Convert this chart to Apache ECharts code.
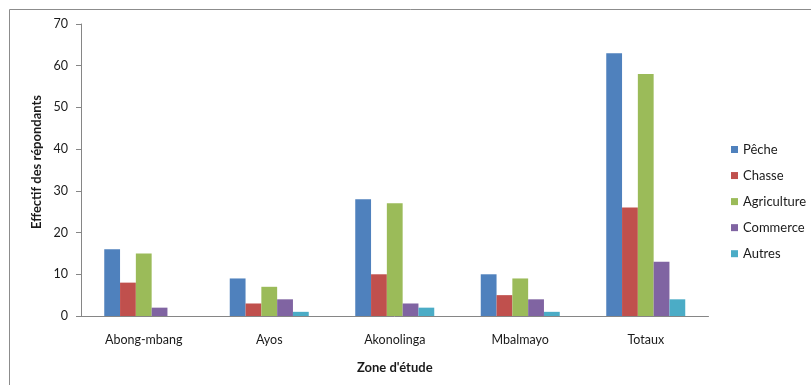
<!DOCTYPE html>
<html>
<head>
<meta charset="utf-8">
<script src="https://cdn.jsdelivr.net/npm/echarts@6/dist/echarts.min.js"></script>
<style>
  html, body { margin: 0; padding: 0; background: #fff; }
  #chart { width: 811px; height: 385px; }
</style>
</head>
<body>
<div id="chart"></div>
<script>
// Zones d'étude et effectifs par activité
const zones = ['Abong-mbang', 'Ayos', 'Akonolinga', 'Mbalmayo', 'Totaux'];
const peche = [16, 9, 28, 10, 63];
const chasse = [8, 3, 10, 5, 26];
const agriculture = [15, 7, 27, 9, 58];
const commerce = [2, 4, 3, 4, 13];
const autres = [0, 1, 2, 1, 4];
const yTicks = [0, 10, 20, 30, 40, 50, 60, 70];

const FONT = 'Lato, "Open Sans", sans-serif';
const TEXT = '#1a1a1a';
const seriesDefs = [
  { name: 'Pêche', data: peche, color: '#4F81BD' },
  { name: 'Chasse', data: chasse, color: '#C0504D' },
  { name: 'Agriculture', data: agriculture, color: '#9BBB59' },
  { name: 'Commerce', data: commerce, color: '#8064A2' },
  { name: 'Autres', data: autres, color: '#4BACC6' }
];

const chart = echarts.init(document.getElementById('chart'), null, { renderer: 'canvas' });
chart.setOption({
  animation: false,
  backgroundColor: '#ffffff',
  graphic: [
    {
      type: 'rect',
      shape: { x: 9.5, y: 9.5, width: 820, height: 400 },
      style: { fill: 'none', stroke: '#8c8c8c', lineWidth: 1 },
      silent: true
    },
    {
      // titre de l'axe vertical
      type: 'text',
      x: 37,
      y: 162,
      rotation: Math.PI / 2,
      style: {
        text: 'Effectif des répondants',
        fontFamily: FONT,
        fontSize: 13,
        fontWeight: 'bold',
        fill: TEXT,
        align: 'center',
        verticalAlign: 'middle'
      },
      silent: true
    }
  ],
  grid: { left: 81, right: 102.5, top: 24, bottom: 69, containLabel: false },
  legend: {
    orient: 'vertical',
    left: 726,
    top: 138,
    itemWidth: 7,
    itemHeight: 7,
    itemGap: 13.05,
    icon: 'rect',
    textStyle: { fontFamily: FONT, fontSize: 13, color: TEXT },
    data: seriesDefs.map(s => s.name)
  },
  xAxis: {
    type: 'category',
    data: zones,
    name: "Zone d'étude",
    nameLocation: 'middle',
    nameGap: 45,
    nameTextStyle: { fontFamily: FONT, fontSize: 13, fontWeight: 'bold', color: TEXT },
    axisLine: { lineStyle: { color: '#868686', width: 1 } },
    axisTick: { show: false },
    axisLabel: { fontFamily: FONT, fontSize: 12.5, color: TEXT, margin: 17 }
  },
  yAxis: {
    type: 'value',
    min: yTicks[0],
    max: yTicks[yTicks.length - 1],
    interval: 10,
    axisLine: { show: true, lineStyle: { color: '#868686', width: 1 } },
    axisTick: { show: true, length: 5, inside: false, lineStyle: { color: '#868686' } },
    splitLine: { show: false },
    axisLabel: { fontFamily: FONT, fontSize: 12.5, color: TEXT, margin: 13 }
  },
  series: seriesDefs.map(s => ({
    name: s.name,
    type: 'bar',
    data: s.data,
    barWidth: 15.8,
    barGap: '0%',
    itemStyle: { color: s.color }
  }))
});
</script>
</body>
</html>
